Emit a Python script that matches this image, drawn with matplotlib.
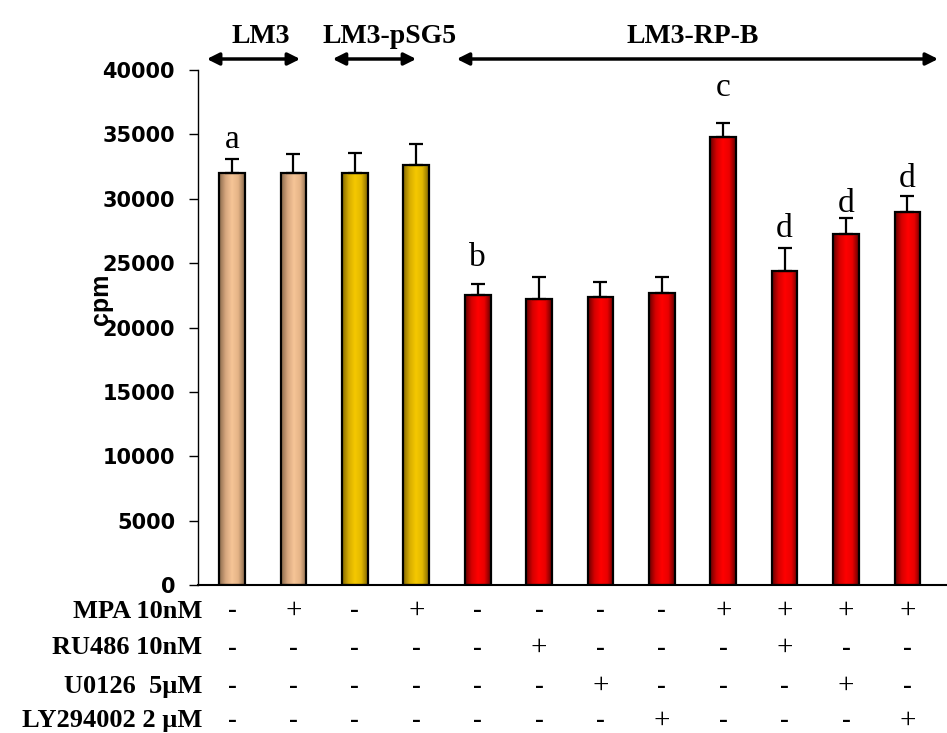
#!/usr/bin/env python3
"""Proliferation (cpm) of LM3 cells and transfectants under hormone / inhibitor treatment."""
import numpy as np
import matplotlib
matplotlib.use("Agg")
import matplotlib.pyplot as plt
from matplotlib.colors import LinearSegmentedColormap

# ---- data ----
cpm_mean = [32000, 32000, 32000, 32650, 22550, 22250, 22350, 22700, 34800, 24350, 27300, 28950]
cpm_err = [1100, 1450, 1550, 1600, 800, 1700, 1150, 1250, 1100, 1850, 1200, 1250]
bar_group = ["LM3", "LM3", "pSG5", "pSG5", "RPB", "RPB", "RPB", "RPB", "RPB", "RPB", "RPB", "RPB"]
sig_letters = ["a", "", "", "", "b", "", "", "", "c", "d", "d", "d"]

treatments = ["MPA 10nM", "RU486 10nM", "U0126  5\u00b5M", "LY294002 2 \u00b5M"]
mpa = ["-", "+", "-", "+", "-", "-", "-", "-", "+", "+", "+", "+"]
ru486 = ["-", "-", "-", "-", "-", "+", "-", "-", "-", "+", "-", "-"]
u0126 = ["-", "-", "-", "-", "-", "-", "+", "-", "-", "-", "+", "-"]
ly294002 = ["-", "-", "-", "-", "-", "-", "-", "+", "-", "-", "-", "+"]

group_labels = ["LM3", "LM3-pSG5", "LM3-RP-B"]

# ---- styling ----
GRADIENTS = {
    "LM3": ["#8a6a4c", "#d6a67e", "#f6c597", "#e4b386", "#8a6a4c"],
    "pSG5": ["#856900", "#d6ac00", "#f5c800", "#e2b800", "#856900"],
    "RPB": ["#680000", "#d60000", "#ff0000", "#ea0000", "#680000"],
}
letter_offset = {0: 8, 4: 13, 8: 19, 9: 8, 10: 4.5, 11: 6.5}
arrow_ends = [(-0.41, 1.11), (1.64, 3.0), (3.66, 11.5)]
text_x = [0.47, 2.57, 7.5]
SERIF = "Liberation Serif"

fig = plt.figure(figsize=(9.47, 7.33), dpi=100)
ax = fig.add_axes([198 / 947, 148 / 733, 749 / 947, 515 / 733])

x = np.arange(len(cpm_mean))
bars = ax.bar(x, cpm_mean, width=0.42, facecolor="none", edgecolor="black",
              linewidth=1.6, zorder=3)

# horizontal shading inside each bar
shade = np.linspace(0, 1, 64).reshape(1, -1)
for b, grp in zip(bars, bar_group):
    cmap = LinearSegmentedColormap.from_list(grp, GRADIENTS[grp])
    im = ax.imshow(shade, cmap=cmap, aspect="auto", zorder=2,
                   extent=[b.get_x(), b.get_x() + b.get_width(), 0, b.get_height()])
    im.set_clip_path(b)

ax.errorbar(x, cpm_mean, yerr=[np.zeros(len(cpm_err)), cpm_err], fmt="none",
            ecolor="black", elinewidth=1.6, capsize=5, capthick=1.6, zorder=4)

for i, lab in enumerate(sig_letters):
    if lab:
        ax.annotate(lab, (x[i], cpm_mean[i] + cpm_err[i]), xytext=(0, letter_offset[i]),
                    textcoords="offset points", ha="center", va="baseline",
                    fontsize=24, family=SERIF)

ax.set_xlim(-0.554, 11.645)
ax.set_ylim(0, 40000)
ax.set_yticks(np.arange(0, 40001, 5000))
ax.set_yticklabels([str(v) for v in range(0, 40001, 5000)],
                   fontsize=15, fontweight="bold", family="DejaVu Sans")
ax.tick_params(axis="y", direction="out", length=6.5, width=1, pad=10)
ax.tick_params(axis="x", length=0, labelbottom=False)
ax.spines["top"].set_visible(False)
ax.spines["right"].set_visible(False)
ax.spines["left"].set_linewidth(1)
ax.spines["bottom"].set_linewidth(1.5)
ax.text(-0.13, 0.555, "cpm", transform=ax.transAxes, rotation=90, ha="center",
        va="center", fontsize=18, fontweight="bold", family="Liberation Sans")

# group arrows and names above the plot
ARROW_Y = 1.0 + 11 / 515
TEXT_Y = 1.0 + 27 / 515
for name, (a0, a1), tx in zip(group_labels, arrow_ends, text_x):
    ax.annotate("", xy=(a0, ARROW_Y), xytext=(a1, ARROW_Y),
                xycoords=("data", "axes fraction"), textcoords=("data", "axes fraction"),
                arrowprops=dict(arrowstyle="<|-|>", color="black", lw=2.5,
                                mutation_scale=18, shrinkA=0, shrinkB=0),
                annotation_clip=False)
    ax.text(tx, TEXT_Y, name, transform=ax.get_xaxis_transform(), ha="center",
            va="baseline", fontsize=20, fontweight="bold", family=SERIF)

# treatment table under the axis
row_y = [-26 / 515, -63 / 515, -101 / 515, -136 / 515]
for label, signs, ry in zip(treatments, [mpa, ru486, u0126, ly294002], row_y):
    ax.text(-0.49, ry, label, transform=ax.get_xaxis_transform(), ha="right",
            va="center", fontsize=19, fontweight="bold", family=SERIF)
    for i, s in enumerate(signs):
        if s == "-":
            ax.text(x[i], ry, s, transform=ax.get_xaxis_transform(), ha="center",
                    va="center", fontsize=19, family=SERIF, fontweight="bold")
        else:
            ax.text(x[i], ry, s, transform=ax.get_xaxis_transform(), ha="center",
                    va="center", fontsize=21, family=SERIF)

fig.savefig("out.png", dpi=100)
